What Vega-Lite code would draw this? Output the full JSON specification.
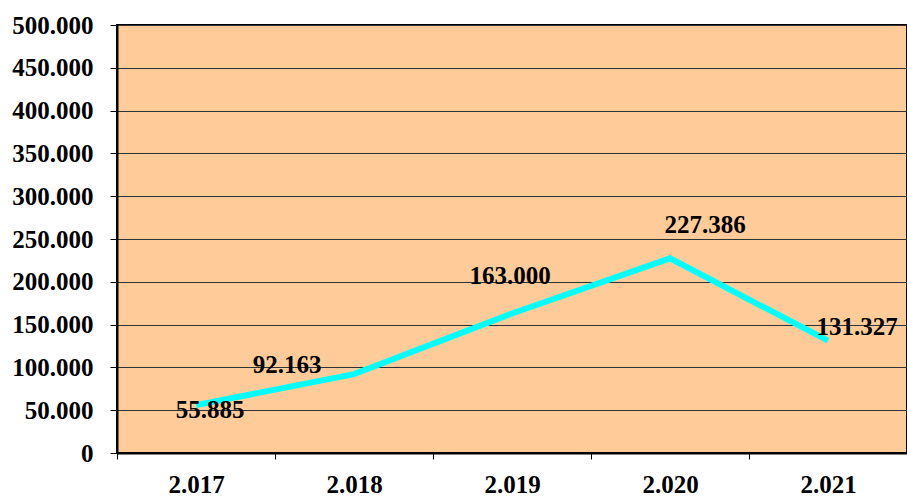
{
  "$schema": "https://vega.github.io/schema/vega-lite/v6.json",
  "width": 790,
  "height": 428,
  "autosize": {"type": "none"},
  "padding": {"left": 117, "top": 25, "right": 0, "bottom": 44},
  "background": "white",
  "config": {
    "locale": {"number": {"decimal": ",", "thousands": ".", "grouping": [3], "currency": ["", ""]}},
    "view": {"fill": "#FFCC99", "stroke": "#000000", "strokeWidth": 2},
    "font": "Liberation Serif"
  },
  "data": {
    "values": [
      {"year": "2.017", "value": 55885, "label": "55.885"},
      {"year": "2.018", "value": 92163, "label": "92.163"},
      {"year": "2.019", "value": 163000, "label": "163.000"},
      {"year": "2.020", "value": 227386, "label": "227.386"},
      {"year": "2.021", "value": 131327, "label": "131.327"}
    ]
  },
  "encoding": {
    "x": {
      "field": "year", "type": "ordinal", "bandPosition": 0.5,
      "scale": {"type": "band", "paddingInner": 0, "paddingOuter": 0},
      "axis": {
        "title": null, "labelAngle": 0, "tickBand": "extent", "grid": false,
        "domainColor": "#000", "domainWidth": 2, "tickColor": "#000", "tickWidth": 1, "tickSize": 6,
        "labelFont": "Liberation Serif", "labelFontWeight": "bold", "labelFontSize": 25, "labelColor": "#000",
        "labelPadding": 13
      }
    },
    "y": {
      "field": "value", "type": "quantitative",
      "scale": {"domain": [0, 500000], "nice": false},
      "axis": {
        "title": null, "values": [0, 50000, 100000, 150000, 200000, 250000, 300000, 350000, 400000, 450000, 500000],
        "format": ",d", "grid": true, "gridColor": "#333333", "gridWidth": 1, "gridOpacity": 1,
        "domainColor": "#000", "domainWidth": 2, "tickColor": "#000", "tickSize": 7,
        "labelFont": "Liberation Serif", "labelFontWeight": "bold", "labelFontSize": 25, "labelColor": "#000",
        "labelPadding": 17
      }
    }
  },
  "layer": [
    {"mark": {"type": "line", "color": "#00FFFF", "strokeWidth": 6}},
    {"transform": [{"filter": "datum.year == '2.017'"}], "mark": {"type": "text", "font": "Liberation Serif", "fontWeight": "bold", "fontSize": 25, "color": "#000", "baseline": "middle", "dx": 14, "dy": 5}, "encoding": {"text": {"field": "label"}}},
    {"transform": [{"filter": "datum.year == '2.018'"}], "mark": {"type": "text", "font": "Liberation Serif", "fontWeight": "bold", "fontSize": 25, "color": "#000", "baseline": "middle", "dx": -67, "dy": -9}, "encoding": {"text": {"field": "label"}}},
    {"transform": [{"filter": "datum.year == '2.019'"}], "mark": {"type": "text", "font": "Liberation Serif", "fontWeight": "bold", "fontSize": 25, "color": "#000", "baseline": "middle", "dx": -2, "dy": -37}, "encoding": {"text": {"field": "label"}}},
    {"transform": [{"filter": "datum.year == '2.020'"}], "mark": {"type": "text", "font": "Liberation Serif", "fontWeight": "bold", "fontSize": 25, "color": "#000", "baseline": "middle", "dx": 35, "dy": -33}, "encoding": {"text": {"field": "label"}}},
    {"transform": [{"filter": "datum.year == '2.021'"}], "mark": {"type": "text", "font": "Liberation Serif", "fontWeight": "bold", "fontSize": 25, "color": "#000", "baseline": "middle", "dx": 29, "dy": -14}, "encoding": {"text": {"field": "label"}}}
  ]
}
